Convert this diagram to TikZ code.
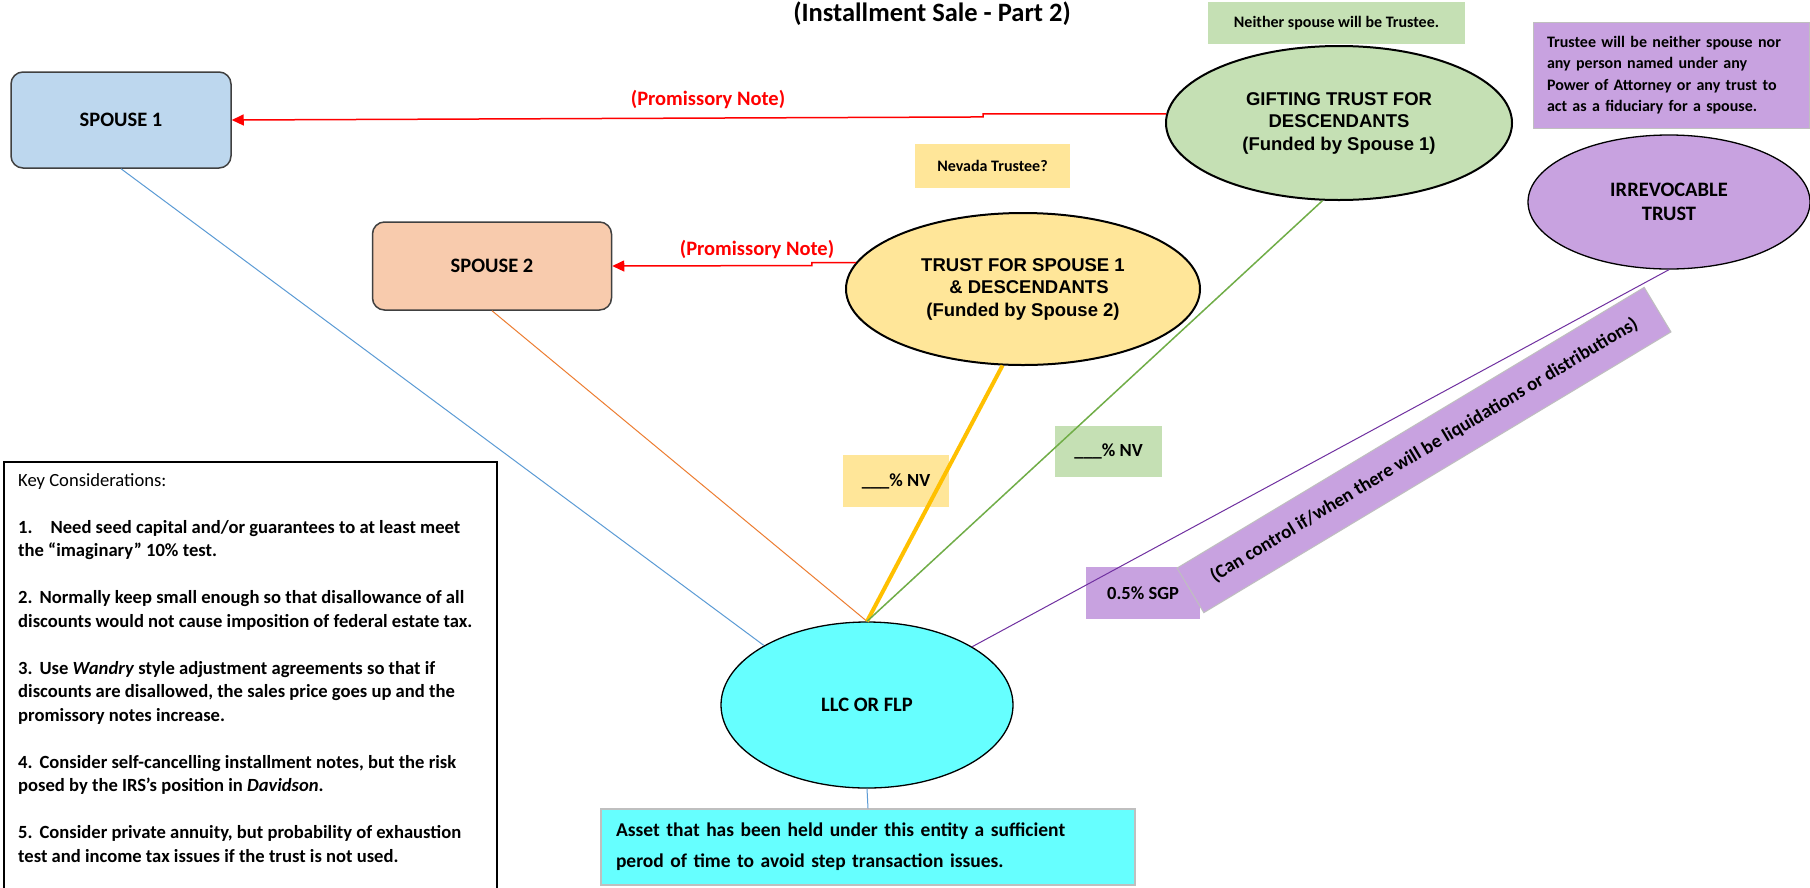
\documentclass[tikz,border=0pt]{standalone}
\usepackage{fontspec}
\setmainfont{Carlito}
\newfontfamily\arialf{Liberation Sans}
\usetikzlibrary{arrows.meta,shapes.geometric}
\definecolor{s1fill}{HTML}{BDD7EE}
\definecolor{s2fill}{HTML}{F8CBAD}
\definecolor{yel}{HTML}{FFE699}
\definecolor{grn}{HTML}{C5E0B4}
\definecolor{pur}{HTML}{C8A2E0}
\definecolor{cyanfill}{HTML}{66FFFF}
\definecolor{lblue}{HTML}{5B9BD5}
\definecolor{lorange}{HTML}{ED7D31}
\definecolor{lyellow}{HTML}{FFC000}
\definecolor{lgreen}{HTML}{70AD47}
\definecolor{lpurple}{HTML}{7030A0}
\definecolor{gborder}{HTML}{BFBFBF}
\begin{document}
\begin{tikzpicture}[x=1pt,y=-1pt,
  spousebox/.style={draw=black!75, line width=1.5pt, rounded corners=12pt, inner sep=0pt, font=\fontsize{20.5}{24}\selectfont\bfseries},
  ell/.style={ellipse, draw=black, line width=2pt, inner sep=0pt, align=center},
  arialtxt/.style={font=\arialf\fontsize{18.5}{22.5}\selectfont\bfseries},
  calitxt/.style={font=\fontsize{20.5}{24}\selectfont\bfseries},
  lbl/.style={inner sep=0pt, align=center, font=\fontsize{16}{19}\selectfont\bfseries},
  nvlbl/.style={inner sep=0pt, align=center, font=\fontsize{18.5}{22}\selectfont\bfseries},
  redarr/.style={draw=red, line width=1.5pt, -{Triangle[length=12pt,width=11pt]}},
  redtxt/.style={text=red, font=\fontsize{20.5}{24}\selectfont\bfseries, inner sep=0pt},
  conn/.style={line width=1pt}
]
\useasboundingbox (0,0) rectangle (1810,887);
\clip (0,0) rectangle (1810,887);
\fill[white] (0,0) rectangle (1810,887);

% title
\node[font=\fontsize{26.5}{30}\selectfont\bfseries, inner sep=0pt] (title) at (932,14) {(Installment Sale - Part 2)};

% label boxes
\node[lbl, fill=yel, minimum width=155pt, minimum height=44pt] (nevada) at (992.5,166) {Nevada Trustee?};
\node[lbl, fill=grn, minimum width=257pt, minimum height=42pt] (neither) at (1336.5,23) {Neither spouse will be Trustee.};
\node[fill=pur, draw=gborder, line width=1pt, minimum width=276pt, minimum height=106pt, text width=248pt, inner xsep=14pt, inner ysep=0pt, align=left, font=\fontsize{16}{21.5}\selectfont\bfseries] (ptext) at (1671,75) {Trustee will be neither spouse nor\\any person named under any\\Power of Attorney or any trust to\\act as a fiduciary for a spouse.};
\node[nvlbl, fill=yel, minimum width=106pt, minimum height=52pt] (nvy) at (896,481) {\_\_\_\% NV};
\node[nvlbl, fill=grn, minimum width=107pt, minimum height=51pt] (nvg) at (1108.5,451.5) {\_\_\_\% NV};
\node[nvlbl, fill=pur, minimum width=114pt, minimum height=52pt] (sgp) at (1143,593) {0.5\% SGP};
\node[fill=pur, draw=gborder, line width=1pt, rotate=31, minimum width=545pt, minimum height=52pt, inner sep=0pt, font=\fontsize{19}{22}\selectfont\bfseries] (ctrl) at (1424,450) {(Can control if/when there will be liquidations or distributions)};

% key considerations
\node[draw=black, line width=1.5pt, minimum width=493pt, minimum height=430pt, inner sep=0pt] (keybox) at (250.5,677) {};
\node[anchor=north west, inner sep=0pt, align=left, font=\fontsize{18.6}{23.5}\selectfont\bfseries] (keytxt) at (18,473) {{\mdseries Key Considerations:}\\[23.5pt]
1.\hspace{18pt}Need seed capital and/or guarantees to at least meet\\
the “imaginary” 10\% test.\\[23.5pt]
2.\hspace{7pt}Normally keep small enough so that disallowance of all\\
discounts would not cause imposition of federal estate tax.\\[23.5pt]
3.\hspace{7pt}Use \textit{Wandry} style adjustment agreements so that if\\
discounts are disallowed, the sales price goes up and the\\
promissory notes increase.\\[23.5pt]
4.\hspace{7pt}Consider self-cancelling installment notes, but the risk\\
posed by the IRS’s position in \textit{Davidson}.\\[23.5pt]
5.\hspace{7pt}Consider private annuity, but probability of exhaustion\\
test and income tax issues if the trust is not used.};

% asset box
\node[fill=cyanfill, draw=gborder, line width=1.2pt, minimum width=534pt, minimum height=76pt, text width=504pt, inner xsep=15pt, inner ysep=0pt, align=left, font=\fontsize{19.5}{31}\selectfont\bfseries] (asset) at (868,847) {Asset that has been held under this entity a sufficient\\perod of time to avoid step transaction issues.};

% main nodes
\node[spousebox, fill=s1fill, minimum width=220pt, minimum height=96pt] (s1) at (121,120) {SPOUSE 1};
\node[spousebox, fill=s2fill, minimum width=239pt, minimum height=88pt] (s2) at (492,266) {SPOUSE 2};
\node[ell, fill=grn, minimum width=346pt, minimum height=154pt, arialtxt] (gift) at (1339,123) {GIFTING TRUST FOR\\DESCENDANTS\\(Funded by Spouse 1)};
\node[ell, fill=yel, minimum width=354pt, minimum height=152pt, arialtxt] (trust) at (1023,289) {TRUST FOR SPOUSE 1\\\hspace*{12pt}\& DESCENDANTS\\(Funded by Spouse 2)};
\node[ell, fill=pur, line width=1.3pt, minimum width=282pt, minimum height=134pt, calitxt] (irr) at (1669,202) {IRREVOCABLE\\TRUST};
\node[ell, fill=cyanfill, line width=1.3pt, minimum width=292pt, minimum height=166pt, calitxt] (llc) at (867,705) {LLC OR FLP};

% red labels
\node[redtxt] (pn1) at (708,99) {(Promissory Note)};
\node[redtxt] (pn2) at (757,249) {(Promissory Note)};

% connectors
\draw[redarr] (gift.177.7) -- ++(-183,0) -- ++(0,3) -- (s1.east);
\draw[redarr] (trust.171.1) -- ++(-44,0) -- ++(0,3) -- (s2.east);
\draw[conn, draw=lblue] (s1.south) -- (llc.150.7);
\draw[conn, draw=lorange] (s2.south) -- (llc.north);
\draw[draw=lyellow, line width=4pt] (trust.255) -- (llc.north);
\draw[draw=lgreen, line width=1.5pt] (gift.258) -- (llc.north);
\draw[conn, draw=lpurple] (irr.south) -- (llc.29.1);
\draw[conn, draw=lblue] (llc.south) -- (asset.north);
\end{tikzpicture}
\end{document}
